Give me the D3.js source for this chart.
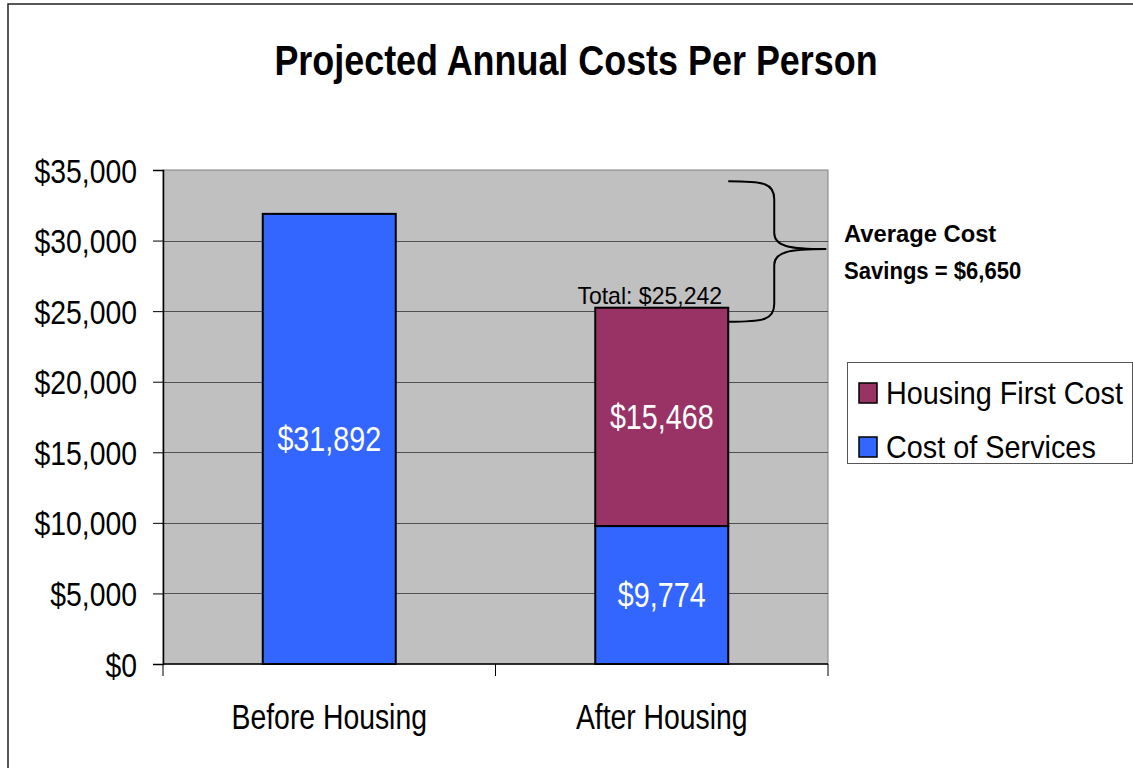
<!DOCTYPE html>
<html>
<head>
<meta charset="utf-8">
<script src="https://cdn.jsdelivr.net/npm/d3@7"></script>
<style>
  body { margin: 0; background: #fff; }
  text { font-family: "Liberation Sans", Arial, sans-serif; }
</style>
</head>
<body>
<div id="chart"></div>
<script>
"use strict";

var categories = ["Before Housing", "After Housing"];
var serviceCost = [31892, 9774];
var housingCost = [0, 15468];
var seriesNames = ["Housing First Cost", "Cost of Services"];
var yTicks = [0, 5000, 10000, 15000, 20000, 25000, 30000, 35000];
var totalAfter = 25242;
var savings = 6650;
// brace range (data units) drawn right of the After Housing bar
var braceRange = [34200, 29400, 24250];

var W = 1133, H = 768;
var plot = { left: 163, right: 828, top: 170, bottom: 664 };
var blue = "#3366FF", purple = "#993366";
var fmt = d3.format("$,");

var svg = d3.select("#chart").append("svg")
  .attr("width", W).attr("height", H);

// outer frame
svg.append("rect").attr("x", 8).attr("y", 4)
  .attr("width", W + 20).attr("height", H + 20)
  .attr("fill", "none").attr("stroke", "#222").attr("stroke-width", 1.5);

// squeezed text helper (chart fonts look horizontally condensed)
function label(g, x, y, str, size, k, opts) {
  opts = opts || {};
  return g.append("text")
    .attr("transform", "translate(" + x + "," + y + ") scale(" + k + ",1)")
    .attr("text-anchor", opts.anchor || "middle")
    .attr("font-size", size)
    .attr("font-weight", opts.bold ? "bold" : "normal")
    .attr("fill", opts.fill || "#000")
    .text(str);
}

label(svg, 576, 75, "Projected Annual Costs Per Person", 43, 0.835, { bold: true });

var x = d3.scaleBand().domain(categories)
  .range([plot.left, plot.right]).paddingInner(0.6).paddingOuter(0.3);
var y = d3.scaleLinear().domain([0, 35000]).range([plot.bottom, plot.top]);

// plot area
svg.append("rect").attr("x", plot.left).attr("y", plot.top)
  .attr("width", plot.right - plot.left).attr("height", plot.bottom - plot.top)
  .attr("fill", "#C0C0C0").attr("stroke", "#808080").attr("stroke-width", 1);

// gridlines
svg.append("g").selectAll("line").data(yTicks.slice(1, -1)).join("line")
  .attr("x1", plot.left).attr("x2", plot.right)
  .attr("y1", function (d) { return Math.round(y(d)) + 0.5; })
  .attr("y2", function (d) { return Math.round(y(d)) + 0.5; })
  .attr("stroke", "#505050").attr("stroke-width", 1);

// y axis
var yAxis = svg.append("g").attr("transform", "translate(" + plot.left + ",0)")
  .call(d3.axisLeft(y).tickValues(yTicks).tickFormat(fmt).tickSizeOuter(0).tickSize(10));
yAxis.select(".domain").attr("stroke", "#000").attr("stroke-width", 1.5);
yAxis.selectAll(".tick line").attr("stroke", "#000");
yAxis.selectAll(".tick text")
  .attr("font-size", 33).attr("font-family", "Liberation Sans, Arial, sans-serif")
  .attr("x", 0).attr("dy", 0)
  .attr("transform", "translate(-26,12) scale(0.86,1)");

// stacked bars
var stacks = categories.map(function (c, i) {
  return { cat: c, service: serviceCost[i], housing: housingCost[i] };
});
var bars = svg.append("g");
bars.selectAll(".svc").data(stacks).join("rect").attr("class", "svc")
  .attr("x", function (d) { return x(d.cat); })
  .attr("width", x.bandwidth())
  .attr("y", function (d) { return y(d.service); })
  .attr("height", function (d) { return y(0) - y(d.service); })
  .attr("fill", blue).attr("stroke", "#000").attr("stroke-width", 2);
bars.selectAll(".hf").data(stacks.filter(function (d) { return d.housing > 0; })).join("rect").attr("class", "hf")
  .attr("x", function (d) { return x(d.cat); })
  .attr("width", x.bandwidth())
  .attr("y", function (d) { return y(d.service + d.housing); })
  .attr("height", function (d) { return y(d.service) - y(d.service + d.housing); })
  .attr("fill", purple).attr("stroke", "#000").attr("stroke-width", 2);

// value labels
stacks.forEach(function (d) {
  var cx = x(d.cat) + x.bandwidth() / 2;
  label(svg, cx, (y(0) + y(d.service)) / 2 + 12, fmt(d.service), 35, 0.82, { fill: "#fff" });
  if (d.housing > 0) {
    label(svg, cx, (y(d.service) + y(d.service + d.housing)) / 2 + 12, fmt(d.housing), 35, 0.82, { fill: "#fff" });
  }
});

// x axis
var xAxisG = svg.append("g");
xAxisG.append("line").attr("x1", plot.left).attr("x2", plot.right)
  .attr("y1", plot.bottom).attr("y2", plot.bottom)
  .attr("stroke", "#000").attr("stroke-width", 1.5);
var xTicks = [plot.left].concat(categories.map(function (c) { return x(c) + x.bandwidth() / 2 + x.step() / 2; }));
xAxisG.selectAll(".xt").data(xTicks).join("line").attr("class", "xt")
  .attr("x1", function (d) { return d; }).attr("x2", function (d) { return d; })
  .attr("y1", plot.bottom).attr("y2", plot.bottom + 12)
  .attr("stroke", "#000");
categories.forEach(function (c) {
  label(svg, x(c) + x.bandwidth() / 2, 729, c, 35, 0.81);
});

// total label + brace
var after = categories[1];
var barRight = x(after) + x.bandwidth();
label(svg, x(after) + x.bandwidth() / 2 - 12, y(totalAfter) - 4, "Total: " + fmt(totalAfter), 24, 0.96);

var bx = barRight + 46, tipX = barRight + 98;
var yT = y(braceRange[0]), yM = y(braceRange[1]), yB = y(braceRange[2]);
svg.append("path")
  .attr("d", "M" + barRight + "," + yT +
    " C" + (bx - 10) + "," + yT + " " + bx + "," + (yT + 2) + " " + bx + "," + (yT + 18) +
    " L" + bx + "," + (yM - 16) +
    " C" + bx + "," + (yM - 3) + " " + (bx + 14) + "," + yM + " " + tipX + "," + yM +
    " C" + (bx + 14) + "," + yM + " " + bx + "," + (yM + 3) + " " + bx + "," + (yM + 16) +
    " L" + bx + "," + (yB - 18) +
    " C" + bx + "," + (yB - 2) + " " + (bx - 10) + "," + yB + " " + barRight + "," + yB)
  .attr("fill", "none").attr("stroke", "#000").attr("stroke-width", 2);

label(svg, 844, 242, "Average Cost", 24, 0.99, { bold: true, anchor: "start" });
label(svg, 844, 279, "Savings = " + fmt(savings), 24, 0.92, { bold: true, anchor: "start" });

// legend
var lg = svg.append("g");
lg.append("rect").attr("x", 847.5).attr("y", 362.5).attr("width", 285).attr("height", 101)
  .attr("fill", "#fff").attr("stroke", "#555").attr("stroke-width", 1);
var legendColors = [purple, blue];
seriesNames.forEach(function (name, i) {
  var cy = 393 + i * 54;
  lg.append("rect").attr("x", 859).attr("y", cy - 10).attr("width", 18).attr("height", 20)
    .attr("fill", legendColors[i]).attr("stroke", "#000").attr("stroke-width", 1.5);
  label(lg, 886, cy + 11, name, 31, 0.93, { anchor: "start" });
});
</script>
</body>
</html>
